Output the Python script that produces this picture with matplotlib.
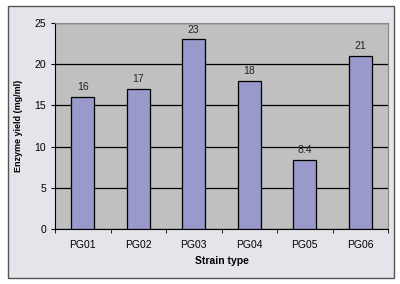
import matplotlib
matplotlib.use("Agg")
import matplotlib.pyplot as plt
from matplotlib.patches import Rectangle

# data
strains = ["PG01", "PG02", "PG03", "PG04", "PG05", "PG06"]
yield_vals = [16, 17, 23, 18, 8.4, 21]
value_labels = ["16", "17", "23", "18", "8.4", "21"]
y_ticks = [0, 5, 10, 15, 20, 25]

plt.rcParams['font.family'] = ['Liberation Sans', 'DejaVu Sans']

W, H = 400, 284
fig = plt.figure(figsize=(W / 100, H / 100), dpi=100)
fig.patch.set_facecolor("white")

# outer chart frame
fig.patches.append(Rectangle((8 / W, 1 - 278 / H), 386 / W, 272 / H,
                             transform=fig.transFigure, facecolor="#e4e4ea",
                             edgecolor="#555555", linewidth=1.0, zorder=0))

ax = fig.add_axes([55 / W, 1 - 229 / H, 333 / W, 206 / H])
ax.set_facecolor("#c0c0c0")
ax.set_zorder(1)

x = range(len(strains))
ax.bar(x, yield_vals, width=0.42, color="#9999cc", edgecolor="black",
       linewidth=0.9, zorder=3)
for xi, v, lab in zip(x, yield_vals, value_labels):
    ax.text(xi, v + 0.6, lab, ha="center", va="bottom", fontsize=7.5, color="#222222")

ax.set_xlim(-0.5, len(strains) - 0.5)
ax.set_ylim(0, 25)
ax.set_yticks(y_ticks)
ax.yaxis.grid(True, color="black", linewidth=0.9, zorder=1)
ax.set_axisbelow(True)

ax.set_xticks(list(x))
ax.set_xticklabels(strains, fontsize=7.5)
ax.set_xticks([i - 0.5 for i in range(len(strains) + 1)], minor=True)
ax.tick_params(axis="x", which="major", length=0, pad=8)
ax.tick_params(axis="x", which="minor", length=3, direction="out")
ax.tick_params(axis="y", labelsize=7.5, length=3, direction="out")

for s in ["top", "right"]:
    ax.spines[s].set_color("#888888")
    ax.spines[s].set_linewidth(0.8)
ax.spines["left"].set_color("black")
ax.spines["bottom"].set_color("black")

ax.set_xlabel("Strain type", fontsize=7.5, fontweight="bold", labelpad=4)
ax.set_ylabel("Enzyme yield (mg/ml)", fontsize=6.5, fontweight="bold", labelpad=8)

fig.savefig("out.png", dpi=100)
